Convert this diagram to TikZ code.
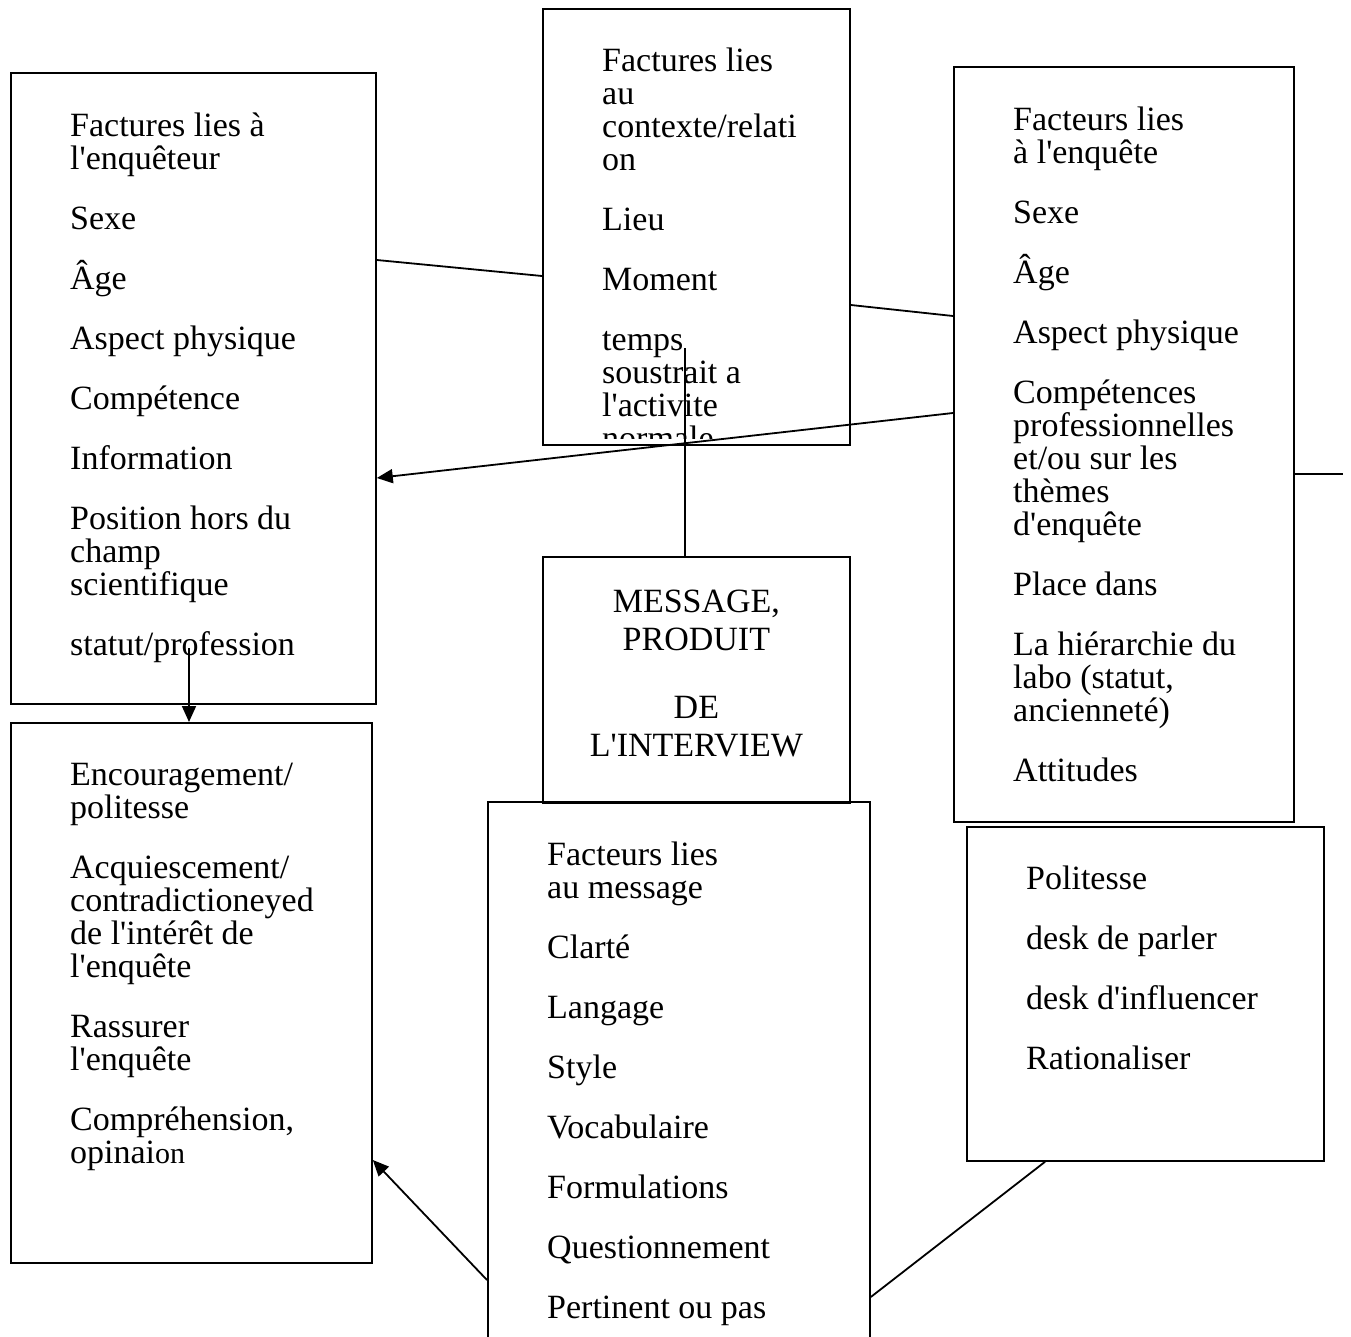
\documentclass[tikz,border=0pt]{standalone}
\usepackage{fontspec}
\setmainfont{Liberation Serif}[Ligatures=TeXOff]
\usepackage{tikz}
\usetikzlibrary{positioning, arrows.meta, calc}
\tikzset{
    box plain/.style={rectangle, draw=black, line width=1.8pt, inner sep=0pt, anchor=north west},
    item text/.style={anchor=north west, inner sep=0pt, align=left, font=\fontsize{34}{33}\selectfont},
    link/.style={line width=1.8pt},
    link arrow/.style={line width=1.8pt, -{Triangle[length=16pt, width=14pt]}},
}

\begin{document}
\setlength{\lineskiplimit}{-50pt}
\begin{tikzpicture}[x=1pt, y=-1pt]
\clip (0,0) rectangle (1351,1337);
\fill[white] (0,0) rectangle (1351,1337);
\node[box plain, minimum width=365, minimum height=631] (fenq) at (10,72) {};
\node[box plain, minimum width=307, minimum height=436] (fctx) at (542,8) {};
\node[box plain, minimum width=340, minimum height=755] (fenqt) at (953,66) {};
\node[box plain, minimum width=361, minimum height=540] (encour) at (10,722) {};
\node[box plain, minimum width=307, minimum height=246] (msg) at (542,556) {};
\node[box plain, minimum width=382, minimum height=600] (fmsg) at (487,801) {};
\node[box plain, minimum width=357, minimum height=334] (polit) at (966,826) {};
\node[item text] (tenq) at ([shift={(60pt,-41pt)}]fenq.north west) {Factures lies à\\l'enquêteur\\[27pt]Sexe\\[27pt]Âge\\[27pt]Aspect physique\\[27pt]Compétence\\[27pt]Information\\[27pt]Position hors du\\champ\\scientifique\\[27pt]statut/profession};
\begin{scope}
\clip (fctx.north west) rectangle ([yshift=7pt]fctx.south east);
\node[item text] (tctx) at ([shift={(60pt,-40pt)}]fctx.north west) {Factures lies\\au\\contexte/relati\\on\\[27pt]Lieu\\[27pt]Moment\\[27pt]temps\\soustrait a\\l'activite\\normale};
\end{scope}
\node[item text] (tenqt) at ([shift={(60pt,-41pt)}]fenqt.north west) {Facteurs lies\\à l'enquête\\[27pt]Sexe\\[27pt]Âge\\[27pt]Aspect physique\\[27pt]Compétences\\professionnelles\\et/ou sur les\\thèmes\\d'enquête\\[27pt]Place dans\\[27pt]La hiérarchie du\\labo (statut,\\ancienneté)\\[27pt]Attitudes};
\node[item text] (tencour) at ([shift={(60pt,-41pt)}]encour.north west) {Encouragement/\\politesse\\[27pt]Acquiescement/\\contradictioneyed\\de l'intérêt de\\l'enquête\\[27pt]Rassurer\\l'enquête\\[27pt]Compréhension,\\opinai{\fontsize{30}{33}\selectfont on}};
\node[item text, anchor=north, align=center, font=\fontsize{34}{38}\selectfont] (tmsg) at ([yshift=-34pt]msg.north) {MESSAGE,\\PRODUIT\\[30pt]DE\\L'INTERVIEW};
\node[item text] (tfmsg) at ([shift={(60pt,-41pt)}]fmsg.north west) {Facteurs lies\\au message\\[27pt]Clarté\\[27pt]Langage\\[27pt]Style\\[27pt]Vocabulaire\\[27pt]Formulations\\[27pt]Questionnement\\[27pt]Pertinent ou pas};
\node[item text] (tpolit) at ([shift={(60pt,-40pt)}]polit.north west) {Politesse\\[27pt]desk de parler\\[27pt]desk d'influencer\\[27pt]Rationaliser};
\coordinate (tstart) at (685,348);
\coordinate (pstart) at (189,648);
\coordinate (cend) at (1343,474);
\draw[link] ([yshift=-188pt]fenq.north east) -- ([yshift=-268pt]fctx.north west);
\draw[link] ([yshift=-297pt]fctx.north east) -- ([yshift=-250pt]fenqt.north west);
\draw[link arrow] ([yshift=-347pt]fenqt.north west) -- ([yshift=-406pt]fenq.north east);
\draw[link] (tstart) -- (tstart |- msg.north);
\draw[link arrow] (pstart) -- (pstart |- encour.north);
\draw[link arrow] ([yshift=-479pt]fmsg.north west) -- ([yshift=-438pt]encour.north east);
\draw[link] ([yshift=-496pt]fmsg.north east) -- ([xshift=79pt]polit.south west);
\draw[link] ([yshift=-408pt]fenqt.north east) -- (cend);
\end{tikzpicture}
\end{document}
